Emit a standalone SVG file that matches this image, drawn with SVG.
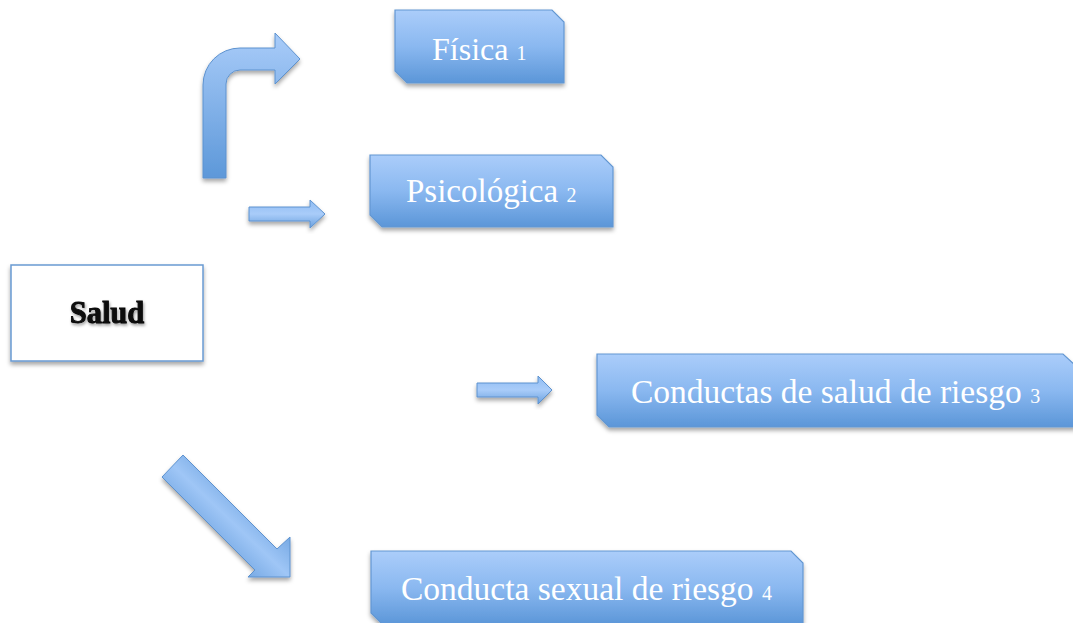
<svg xmlns="http://www.w3.org/2000/svg" width="1073" height="623" viewBox="0 0 1073 623">
<defs>
<linearGradient id="boxg" x1="0" y1="0" x2="0" y2="1">
<stop offset="0" stop-color="#abcdfa"/>
<stop offset="0.5" stop-color="#8ab8f0"/>
<stop offset="1" stop-color="#5b96d8"/>
</linearGradient>
<linearGradient id="arrg" x1="0" y1="0" x2="0" y2="1">
<stop offset="0" stop-color="#a9ccf9"/>
<stop offset="1" stop-color="#5d98d9"/>
</linearGradient>
<linearGradient id="arrh" x1="0" y1="0" x2="0" y2="1">
<stop offset="0" stop-color="#8fbcf2"/>
<stop offset="0.5" stop-color="#a9ccf9"/>
<stop offset="1" stop-color="#6aa0de"/>
</linearGradient>
<linearGradient id="arrd" x1="0" y1="1" x2="1" y2="0">
<stop offset="0.3" stop-color="#6ea3e0"/>
<stop offset="0.5" stop-color="#9fc6f6"/>
<stop offset="0.7" stop-color="#6ea3e0"/>
</linearGradient>
<filter id="sh" x="-10%" y="-10%" width="120%" height="130%">
<feDropShadow dx="0" dy="3" stdDeviation="2" flood-color="#000" flood-opacity="0.35"/>
</filter>
<filter id="tsh" x="-10%" y="-20%" width="120%" height="150%">
<feDropShadow dx="1" dy="2" stdDeviation="1.5" flood-color="#000" flood-opacity="0.4"/>
</filter>
</defs>
<style>
.box{fill:url(#boxg);stroke:#6397d2;stroke-width:1.2;filter:url(#sh)}
.arr{stroke:#5d92cf;stroke-width:1;filter:url(#sh)}
.lbl{font-family:"Liberation Serif",serif;font-size:33.5px;fill:#ffffff}
.num{font-size:20px}
</style>
<rect width="1073" height="623" fill="#ffffff"/>
<g id="connectors">
<path class="arr" fill="url(#arrg)" d="M203,178 L203,85 A37,37 0 0 1 240,48 L275,48 L275,33 L300,59 L275,84 L275,70 L240,70 A14,14 0 0 0 226,84 L226,178 Z"/>
<path class="arr" fill="url(#arrh)" d="M249,207 L310,207 L310,200 L325,214 L310,228 L310,221 L249,221 Z"/>
<path class="arr" fill="url(#arrh)" d="M477,383 L538,383 L538,376 L552,390 L538,404 L538,397 L477,397 Z"/>
<path class="arr" fill="url(#arrd)" d="M183,455 L277,549 L290,537 L290,577 L248,577 L255,570 L162,477 Z"/>
</g>
<g id="salud">
<rect x="11" y="265" width="192" height="96" fill="#ffffff" stroke="#6a9ad2" stroke-width="1.5" filter="url(#sh)"/>
<text x="107" y="323" text-anchor="middle" font-family="Liberation Serif, serif" font-weight="bold" font-size="30.5" fill="#111" stroke="#000" stroke-width="0.8" filter="url(#tsh)">Salud</text>
</g>
<g id="fisica">
<path class="box" d="M395,10 L552,10 L564,22 L564,83 L407,83 L395,71 Z"/>
<text class="lbl" x="432" y="60" style="font-size:32px">Física <tspan class="num">1</tspan></text>
</g>
<g id="psicologica">
<path class="box" d="M370,155 L601,155 L613,167 L613,227 L382,227 L370,215 Z"/>
<text class="lbl" x="406" y="202" style="font-size:33px">Psicológica <tspan class="num">2</tspan></text>
</g>
<g id="conductas">
<path class="box" d="M597,354 L1063,354 L1076,366 L1076,427 L609,427 L597,415 Z"/>
<text class="lbl" x="631" y="403">Conductas de salud de riesgo <tspan class="num">3</tspan></text>
</g>
<g id="sexual">
<path class="box" d="M371,551 L791,551 L803,563 L803,625 L383,625 L371,613 Z"/>
<text class="lbl" x="401" y="600">Conducta sexual de riesgo <tspan class="num">4</tspan></text>
</g>
</svg>
